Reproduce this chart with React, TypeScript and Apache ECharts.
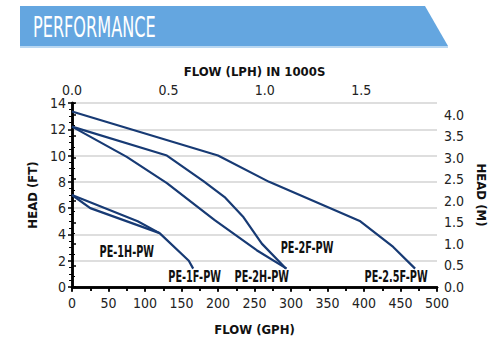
import React, { useEffect, useRef } from "react";
import * as echarts from "echarts";

// Flow in GPH, head in FT
const seriesNames = ["PE-1H-PW", "PE-1F-PW", "PE-2H-PW", "PE-2F-PW", "PE-2.5F-PW"];

const pe1hFlow = [0, 25, 120];
const pe1hHead = [7.0, 6.0, 4.1];

const pe1fFlow = [0, 90, 120, 160, 166];
const pe1fHead = [7.0, 5.0, 4.1, 2.0, 1.4];

const pe2hFlow = [0, 75, 130, 195, 253, 294];
const pe2hHead = [12.2, 9.9, 7.9, 5.1, 2.8, 1.4];

const pe2fFlow = [0, 130, 180, 210, 235, 260, 293];
const pe2fHead = [12.2, 10.0, 8.05, 6.8, 5.3, 3.3, 1.4];

const pe25fFlow = [0, 200, 270, 395, 440, 470];
const pe25fHead = [13.35, 10.0, 8.0, 5.0, 3.05, 1.4];

// label anchor points (flow GPH, head FT)
const labelFlow = [75, 168, 260, 322, 444];
const labelHead = [2.7, 0.74, 0.78, 2.95, 0.74];

const gphTicks = [0, 50, 100, 150, 200, 250, 300, 350, 400, 450, 500];
const ftTicks = [0, 2, 4, 6, 8, 10, 12, 14];

const GPH_MAX = 500;
const FT_MAX = 14;
const LPH_K_MAX = (GPH_MAX * 3.78541) / 1000; // thousands of LPH
const M_MAX = FT_MAX * 0.3048;

const LINE_COLOR = "#173a74";
const FONT = "'DejaVu Sans Condensed', 'Liberation Sans Narrow', sans-serif";

export default function App() {
  const ref = useRef<HTMLDivElement>(null);

  useEffect(() => {
    if (!ref.current) return;
    const chart = echarts.init(ref.current, undefined, { renderer: "svg" });

    const flows = [pe1hFlow, pe1fFlow, pe2hFlow, pe2fFlow, pe25fFlow];
    const heads = [pe1hHead, pe1fHead, pe2hHead, pe2fHead, pe25fHead];

    const series: any[] = seriesNames.map((name, i) => ({
      name,
      type: "line",
      xAxisIndex: 0,
      yAxisIndex: 0,
      data: flows[i].map((f, j) => [f, heads[i][j]]),
      symbol: "none",
      lineStyle: { color: LINE_COLOR, width: 2.2 },
    }));

    const axisLabelBase = { color: "#222", fontFamily: FONT, fontSize: 14 };
    const nameBase = { color: "#111", fontFamily: FONT, fontWeight: "bold" as const, fontSize: 13 };

    const banner: any[] = [
      {
        type: "polygon",
        shape: { points: [[20, 6], [425, 6], [448, 46], [20, 46]] },
        style: { fill: "#64a6e0" },
      },
      {
        type: "rect",
        shape: { x: 20, y: 46, width: 428, height: 2 },
        style: { fill: "#b9d7f1" },
      },
      {
        type: "text",
        x: 33,
        y: 27,
        scaleX: 0.64,
        style: {
          text: "PERFORMANCE",
          fill: "#ffffff",
          font: `28px ${FONT}`,
          verticalAlign: "middle",
        },
      },
    ];

    chart.setOption({
      animation: false,
      backgroundColor: "#fff",
      grid: { left: 72, right: 63, top: 103, bottom: 65, containLabel: false },
      graphic: banner,
      xAxis: [
        {
          type: "value",
          position: "bottom",
          min: 0,
          max: GPH_MAX,
          interval: 50,
          name: "FLOW (GPH)",
          nameLocation: "middle",
          nameGap: 36,
          nameTextStyle: nameBase,
          axisLine: { show: true, lineStyle: { color: "#000", width: 2.5 } },
          axisTick: { show: true, length: 5, lineStyle: { color: "#000", width: 1.5 } },
          minorTick: { show: true, splitNumber: 2, length: 4, lineStyle: { color: "#000", width: 1.5 } },
          axisLabel: { ...axisLabelBase, margin: 9, customValues: gphTicks },
          splitLine: { show: false },
        },
        {
          type: "value",
          position: "top",
          min: 0,
          max: GPH_MAX,
          interval: 25,
          axisLine: { show: true, lineStyle: { color: "#000", width: 2.5 } },
          axisTick: { show: true, inside: true, length: 4, lineStyle: { color: "#000", width: 1.5 } },
          axisLabel: { show: false },
          splitLine: { show: false },
        },
        {
          type: "value",
          position: "top",
          min: 0,
          max: LPH_K_MAX,
          interval: 0.5,
          name: "FLOW (LPH) IN 1000S",
          nameLocation: "middle",
          nameGap: 25,
          nameTextStyle: nameBase,
          axisLine: { show: false },
          axisTick: { show: false },
          axisLabel: {
            ...axisLabelBase,
            margin: 6,
            showMaxLabel: false,
            formatter: (v: number) => v.toFixed(1),
          },
          splitLine: { show: false },
        },
      ],
      yAxis: [
        {
          type: "value",
          position: "left",
          min: 0,
          max: FT_MAX,
          interval: 2,
          name: "HEAD (FT)",
          nameLocation: "middle",
          nameRotate: 90,
          nameGap: 30,
          nameTextStyle: nameBase,
          axisLine: { show: true, lineStyle: { color: "#000", width: 2.5 } },
          axisTick: { show: true, length: 4, lineStyle: { color: "#000", width: 1.5 } },
          minorTick: { show: true, splitNumber: 4, length: 3, lineStyle: { color: "#000", width: 1 } },
          axisLabel: { ...axisLabelBase, margin: 6, customValues: ftTicks },
          splitLine: { show: true, lineStyle: { color: "#d3d3d3", width: 1.5 } },
        },
        {
          type: "value",
          position: "right",
          min: 0,
          max: M_MAX,
          interval: 0.5,
          name: "HEAD (M)",
          nameLocation: "middle",
          nameRotate: -90,
          nameGap: 37,
          nameTextStyle: nameBase,
          axisLine: { show: true, lineStyle: { color: "#000", width: 2.5 } },
          axisTick: { show: true, length: 4, lineStyle: { color: "#000", width: 1.5 } },
          minorTick: { show: true, splitNumber: 2, length: 3, lineStyle: { color: "#000", width: 1 } },
          axisLabel: {
            ...axisLabelBase,
            margin: 7,
            showMaxLabel: false,
            formatter: (v: number) => v.toFixed(1),
          },
          splitLine: { show: false },
        },
      ],
      series,
    });

    // Curve name labels, positioned through the chart's own coordinate system
    const labels = seriesNames.map((name, i) => {
      const p = chart.convertToPixel({ xAxisIndex: 0, yAxisIndex: 0 }, [labelFlow[i], labelHead[i]]) as number[];
      return {
        type: "text",
        x: p[0],
        y: p[1],
        scaleX: 0.72,
        z: 10,
        style: {
          text: name,
          fill: "#111",
          font: `bold 15px ${FONT}`,
          align: "center",
          verticalAlign: "middle",
        },
      };
    });
    chart.setOption({ graphic: [...banner, ...labels] });

    return () => chart.dispose();
  }, []);

  return (
    <div
      ref={ref}
      style={{ position: "fixed", left: 0, top: 0, width: 500, height: 352, background: "#fff" }}
    />
  );
}
